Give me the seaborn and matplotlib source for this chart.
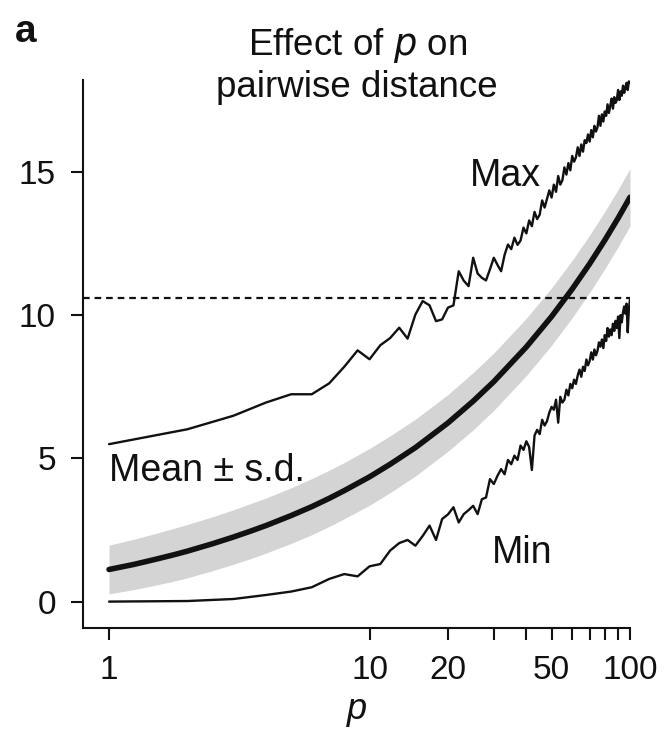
import numpy as np
import pandas as pd
import matplotlib
matplotlib.use("Agg")
import matplotlib.pyplot as plt
import seaborn as sns

# ---- data ----
p_int = list(range(1, 101))

max_dist = [5.50, 6.02, 6.49, 6.95, 7.24, 7.24, 7.62, 8.20, 8.77, 8.46,
            8.95, 9.20, 9.56, 9.18, 10.02, 10.49, 10.34, 9.79, 9.85, 10.26,
            10.34, 11.53, 11.20, 11.01, 12.00, 11.45, 11.30, 11.21, 11.60, 12.00,
            11.75, 11.53, 12.10, 12.46, 12.30, 12.70, 12.45, 12.60, 13.05, 12.85,
            13.30, 13.10, 13.60, 13.35, 13.50, 14.00, 13.75, 14.05, 14.35, 14.10,
            14.55, 14.30, 14.85, 14.55, 14.70, 15.15, 14.90, 15.30, 15.05, 15.55,
            15.35, 15.50, 15.85, 15.55, 15.95, 15.70, 16.10, 16.00, 16.30, 16.05,
            16.45, 16.20, 16.60, 16.40, 16.55, 16.95, 16.60, 17.00, 16.75, 17.10,
            16.95, 17.35, 17.05, 17.30, 17.55, 17.20, 17.60, 17.40, 17.50, 17.85,
            17.50, 17.80, 17.65, 18.00, 17.75, 17.95, 18.10, 17.85, 18.15, 18.10]

min_dist = [0.01, 0.03, 0.10, 0.24, 0.36, 0.51, 0.80, 0.97, 0.89, 1.24,
            1.32, 1.79, 2.05, 2.16, 1.96, 2.30, 2.66, 2.16, 2.89, 3.05,
            3.30, 2.77, 3.06, 3.20, 3.35, 3.06, 3.58, 3.64, 4.28, 4.11,
            4.40, 4.63, 4.45, 4.95, 4.80, 5.10, 4.95, 5.45, 5.30, 5.60,
            5.40, 4.60, 5.80, 6.00, 5.85, 6.35, 6.15, 6.30, 6.60, 6.80,
            6.70, 7.05, 6.25, 7.15, 6.95, 7.05, 7.40, 7.20, 7.60, 7.45,
            7.75, 7.60, 7.90, 8.10, 7.85, 8.20, 8.05, 8.45, 8.25, 8.40,
            8.70, 8.45, 8.80, 8.60, 8.75, 9.05, 8.90, 9.15, 8.85, 9.30,
            9.10, 9.55, 9.25, 9.50, 9.30, 9.70, 9.45, 9.80, 9.55, 9.95,
            9.20, 10.00, 9.75, 10.10, 10.30, 10.05, 10.40, 9.40, 10.20, 10.55]

p_mean = [1, 1.25, 1.5, 1.75, 2, 2.5, 3, 3.5, 4, 5, 6, 7, 8, 10, 12, 15, 20,
          25, 30, 40, 50, 60, 70, 80, 90, 100]
mean_dist = [1.13, 1.31, 1.48, 1.63, 1.77, 2.03, 2.26, 2.47, 2.66, 3.01, 3.32,
             3.61, 3.88, 4.36, 4.80, 5.38, 6.24, 7.00, 7.68, 8.89, 9.95, 10.91,
             11.79, 12.61, 13.38, 14.11]
sd_dist = [0.85, 0.88, 0.90, 0.92, 0.93, 0.94, 0.95, 0.96, 0.96, 0.97, 0.98,
           0.98, 0.98, 0.99, 0.99, 0.99, 0.99, 1.00, 1.00, 1.00, 1.00, 1.00,
           1.00, 1.00, 1.00, 1.00]

threshold = 10.6

x_ticks = [1, 10, 20, 30, 40, 50, 60, 70, 80, 90, 100]
x_ticklabels = ["1", "10", "20", "", "", "50", "", "", "", "", "100"]
y_ticks = [0, 5, 10, 15]

# ---- plotting ----
sns.set_style("ticks")
plt.rcParams["font.family"] = ["Liberation Sans", "DejaVu Sans"]

fig = plt.figure(figsize=(6.64, 7.43), dpi=100)
ax = fig.add_axes([0.125, 0.1548, 0.8238, 0.7376])

mean_df = pd.DataFrame({"p": p_mean, "mean": mean_dist, "sd": sd_dist})
ext_df = pd.DataFrame({"p": p_int, "max": max_dist, "min": min_dist})

ax.fill_between(mean_df["p"], mean_df["mean"] - mean_df["sd"],
                mean_df["mean"] + mean_df["sd"], color="#d4d4d4", lw=0, zorder=1)
sns.lineplot(data=mean_df, x="p", y="mean", ax=ax, color="#111111", lw=4.0, zorder=3)
sns.lineplot(data=ext_df, x="p", y="max", ax=ax, color="#111111", lw=1.7, zorder=3)
sns.lineplot(data=ext_df, x="p", y="min", ax=ax, color="#111111", lw=1.7, zorder=3)
ax.axhline(threshold, color="#111111", lw=1.6, dashes=(3, 2.2), zorder=2)

ax.set_xscale("log")
ax.set_xlim(10 ** -0.1, 100)
ax.set_ylim(-0.91, 18.2)
ax.set_xticks(x_ticks)
ax.set_xticklabels(x_ticklabels)
ax.xaxis.set_minor_locator(matplotlib.ticker.NullLocator())
ax.set_yticks(y_ticks)
ax.set_yticklabels([str(v) for v in y_ticks])

for s in ["top", "right"]:
    ax.spines[s].set_visible(False)
for s in ["left", "bottom"]:
    ax.spines[s].set_linewidth(1.5)
    ax.spines[s].set_color("#111111")
ax.tick_params(axis="both", direction="out", length=8.5, width=1.5,
               pad=11, labelsize=24, colors="#111111")

ax.set_xlabel("p", fontsize=26, style="italic", labelpad=4, color="#111111")
ax.set_ylabel("")

ax.text(24.2, 14.5, "Max", fontsize=27, ha="left", va="baseline", color="#111111")
ax.text(1.0, 4.2, "Mean \u00b1 s.d.", fontsize=27, ha="left", va="baseline", color="#111111")
ax.text(29.5, 1.35, "Min", fontsize=27, ha="left", va="baseline", color="#111111")

fig.text(0.538, 0.926, "Effect of $\\it{p}$ on", fontsize=26.5, ha="center", va="baseline",
         color="#111111")
fig.text(0.538, 0.869, "pairwise distance", fontsize=26.5, ha="center", va="baseline",
         color="#111111")
fig.text(0.022, 0.943, "a", fontsize=28, fontweight="bold", ha="left", va="baseline",
         color="#111111")

fig.savefig("out.png", dpi=100)
